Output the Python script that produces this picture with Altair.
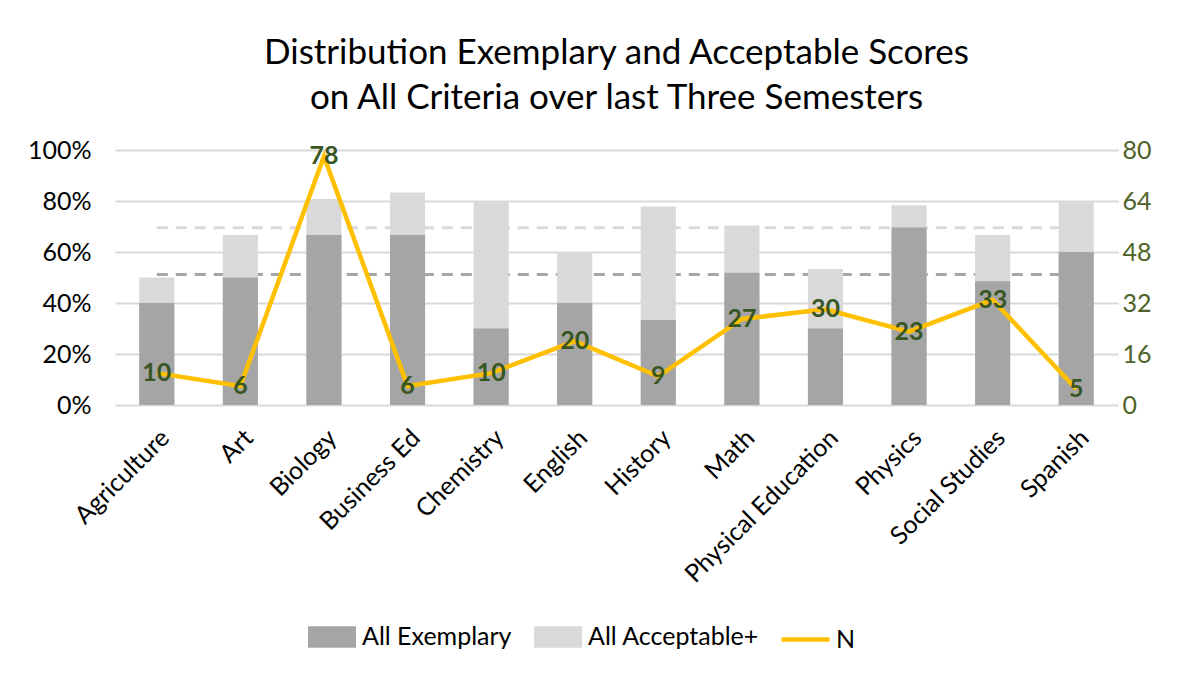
import altair as alt
import pandas as pd

categories = ["Agriculture", "Art", "Biology", "Business Ed", "Chemistry", "English",
              "History", "Math", "Physical Education", "Physics", "Social Studies", "Spanish"]
exemplary = [0.40, 0.50, 0.667, 0.667, 0.30, 0.40, 0.333, 0.519, 0.30, 0.696, 0.485, 0.60]
acceptable = [0.50, 0.667, 0.808, 0.833, 0.80, 0.60, 0.778, 0.704, 0.533, 0.783, 0.667, 0.80]
n_values = [10, 6, 78, 6, 10, 20, 9, 27, 30, 23, 33, 5]
ref_exemplary = 0.512
ref_acceptable = 0.695

FONT = "Lato"

bars = pd.DataFrame(
    [{"cat": c, "series": "All Acceptable+", "value": v, "ord": 0} for c, v in zip(categories, acceptable)]
    + [{"cat": c, "series": "All Exemplary", "value": v, "ord": 1} for c, v in zip(categories, exemplary)]
)
refs = pd.DataFrame(
    [{"cat": c, "ref": "exemplary", "value": ref_exemplary} for c in categories]
    + [{"cat": c, "ref": "acceptable", "value": ref_acceptable} for c in categories]
)
line_df = pd.DataFrame({"cat": categories, "N": n_values, "series": ["N"] * len(categories)})

x_enc = alt.X("cat:N", sort=categories, title=None,
              scale=alt.Scale(paddingInner=0.58, paddingOuter=0.29),
              axis=alt.Axis(labelAngle=-45, labelFontSize=25, labelColor="#000000",
                            domain=False, ticks=False, labelPadding=20, labelFont=FONT,
                            labelLimit=400))
y_left = alt.Scale(domain=[0, 1])

ref_layer = alt.Chart(refs).mark_line(strokeWidth=3, strokeDash=[11, 8]).encode(
    x=x_enc,
    y=alt.Y("value:Q", scale=y_left),
    detail="ref:N",
    color=alt.Color("ref:N", scale=alt.Scale(domain=["exemplary", "acceptable"],
                                             range=["#A6A6A6", "#D9D9D9"]), legend=None),
)

bar_layer = alt.Chart(bars).mark_bar().encode(
    x=x_enc,
    y=alt.Y("value:Q", stack=None, scale=y_left, title=None,
            axis=alt.Axis(format=".0%", values=[0, 0.2, 0.4, 0.6, 0.8, 1.0], labelFontSize=25,
                          labelColor="#000000", domain=False, ticks=False, labelPadding=24,
                          gridColor="#D9D9D9", gridWidth=2, labelFont=FONT)),
    fill=alt.Fill("series:N",
                  scale=alt.Scale(domain=["All Exemplary", "All Acceptable+"],
                                  range=["#A5A5A5", "#D9D9D9"]),
                  legend=alt.Legend(orient="none", legendX=193, legendY=463, direction="horizontal",
                                    title=None, symbolType="M-1,-0.45L1,-0.45L1,0.45L-1,0.45Z",
                                    symbolSize=2304, symbolStrokeWidth=0, labelFontSize=25,
                                    labelFont=FONT, labelColor="#000000", columnPadding=22,
                                    labelOffset=6, labelLimit=400)),
    order=alt.Order("ord:Q"),
)

y_right = alt.Y("N:Q", scale=alt.Scale(domain=[0, 80]), title=None,
                axis=alt.Axis(orient="right", values=[0, 16, 32, 48, 64, 80], grid=False,
                              labelFontSize=25, labelColor="#4F6228", domain=False, ticks=False,
                              labelPadding=4, labelFont=FONT))

line_layer = alt.Chart(line_df).mark_line(strokeWidth=4.5).encode(
    x=x_enc,
    y=y_right,
    stroke=alt.Stroke("series:N", scale=alt.Scale(domain=["N"], range=["#FFC000"]),
                      legend=alt.Legend(orient="none", legendX=664, legendY=463, title=None,
                                        symbolType="stroke", symbolSize=2304,
                                        symbolStrokeWidth=4.5, labelFontSize=25, labelFont=FONT,
                                        labelColor="#000000", labelOffset=4)),
)

text_layer = alt.Chart(line_df).mark_text(fontSize=25, fontWeight="bold", color="#375623",
                                          baseline="middle", align="center", font=FONT).encode(
    x=x_enc,
    y=y_right,
    text="N:Q",
)

left = alt.layer(ref_layer, bar_layer)
right = alt.layer(line_layer, text_layer)

chart = alt.layer(left, right).resolve_scale(y="independent").properties(
    width=1003, height=255,
    title=alt.TitleParams(["Distribution Exemplary and Acceptable Scores",
                           "on All Criteria over last Three Semesters"],
                          fontSize=35, font=FONT, fontWeight="normal", color="#000000",
                          lineHeight=45, offset=22),
    padding={"left": 19, "top": 28, "right": 10, "bottom": 10},
).configure(background="#FFFFFF").configure_view(stroke=None)

chart.save("out.html", embed_options={"renderer": "svg", "actions": False})
